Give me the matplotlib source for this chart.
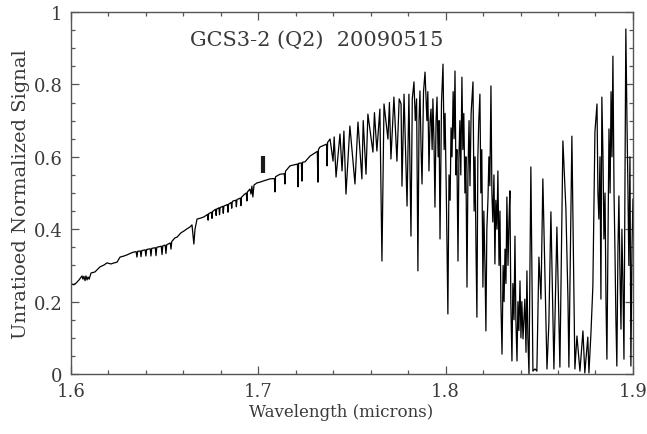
import matplotlib
matplotlib.use("Agg")
import matplotlib.pyplot as plt
from matplotlib.ticker import MultipleLocator

# spectrum: wavelength (microns) and unratioed signal
wl = [
    1.6000, 1.6015, 1.6027, 1.6043, 1.6059, 1.6064, 1.6069, 1.6075, 1.6080, 1.6086,
    1.6091, 1.6097, 1.6107, 1.6128, 1.6155, 1.6176, 1.6192, 1.6214, 1.6224, 1.6246,
    1.6262, 1.6283, 1.6299, 1.6320, 1.6336,
    1.6348, 1.6352, 1.6356, 1.6370, 1.6374, 1.6378, 1.6396, 1.6400, 1.6404,
    1.6423, 1.6427, 1.6431, 1.6450, 1.6454, 1.6458, 1.6482, 1.6486, 1.6490,
    1.6503, 1.6507, 1.6511, 1.6530, 1.6534, 1.6538,
    1.6555, 1.6566, 1.6587, 1.6603, 1.6619, 1.6635, 1.6646, 1.6651, 1.6656, 1.6662,
    1.6673, 1.6694, 1.6710, 1.6726,
    1.6729, 1.6732, 1.6735, 1.6750, 1.6753, 1.6756, 1.6772, 1.6775, 1.6778,
    1.6790, 1.6793, 1.6796, 1.6810, 1.6813, 1.6816, 1.6835, 1.6838, 1.6841,
    1.6855, 1.6858, 1.6861, 1.6865, 1.6880, 1.6883, 1.6886, 1.6904, 1.6907, 1.6910,
    1.6925, 1.6936, 1.6939, 1.6942, 1.6955, 1.6961, 1.6966, 1.6971, 1.6977, 1.6993,
    1.7009, 1.7025, 1.7062, 1.7086, 1.7089, 1.7092, 1.7116, 1.7139, 1.7142, 1.7145,
    1.7169, 1.7209, 1.7212, 1.7215, 1.7230, 1.7233, 1.7236, 1.7249, 1.7276,
    1.7315, 1.7318, 1.7321, 1.7329, 1.7364, 1.7367, 1.7370, 1.7383,
    1.7399, 1.7405, 1.7415, 1.7436, 1.7447, 1.7457, 1.7468, 1.7489, 1.7516, 1.7532,
    1.7553, 1.7560, 1.7575, 1.7585, 1.7612, 1.7620, 1.7633, 1.7649, 1.7660, 1.7671,
    1.7692, 1.7700, 1.7708, 1.7724, 1.7740, 1.7752, 1.7762, 1.7767, 1.7778, 1.7794,
    1.7804, 1.7815, 1.7822, 1.7831, 1.7838, 1.7845, 1.7852, 1.7858, 1.7863, 1.7869,
    1.7874, 1.7882, 1.7890, 1.7900, 1.7905, 1.7911, 1.7917, 1.7922, 1.7928, 1.7932,
    1.7938, 1.7943, 1.7949, 1.7954, 1.7960, 1.7965, 1.7970, 1.7978, 1.7986,
    1.7992, 1.7997, 1.8005, 1.8012, 1.8018, 1.8024, 1.8029, 1.8034, 1.8040, 1.8045,
    1.8050, 1.8055, 1.8060, 1.8066, 1.8071, 1.8076, 1.8081, 1.8087, 1.8092, 1.8097,
    1.8103, 1.8108, 1.8114, 1.8119, 1.8125, 1.8130, 1.8136, 1.8146, 1.8152, 1.8157,
    1.8162, 1.8167, 1.8172, 1.8177, 1.8183, 1.8188, 1.8193, 1.8199, 1.8204, 1.8210,
    1.8215, 1.8220, 1.8226, 1.8231, 1.8236, 1.8242, 1.8247, 1.8252, 1.8258, 1.8263,
    1.8268, 1.8274, 1.8279, 1.8285, 1.8290, 1.8295, 1.8301,
    1.8307, 1.8312, 1.8317, 1.8322, 1.8327, 1.8333, 1.8338, 1.8343, 1.8348, 1.8354,
    1.8359, 1.8365, 1.8370, 1.8375, 1.8381, 1.8386, 1.8391, 1.8397, 1.8402, 1.8407,
    1.8413, 1.8418, 1.8423, 1.8429, 1.8434, 1.8439, 1.8445, 1.8455, 1.8466,
    1.8477, 1.8487, 1.8498, 1.8509, 1.8519, 1.8541, 1.8551, 1.8562, 1.8578, 1.8594,
    1.8610, 1.8626, 1.8642, 1.8653, 1.8658, 1.8674, 1.8690, 1.8701, 1.8717, 1.8733,
    1.8743, 1.8759, 1.8765, 1.8776, 1.8786, 1.8797, 1.8808, 1.8813, 1.8818, 1.8824,
    1.8829, 1.8834, 1.8840, 1.8845, 1.8851, 1.8856, 1.8861, 1.8867, 1.8872, 1.8878,
    1.8883, 1.8888, 1.8893, 1.8899, 1.8904, 1.8909, 1.8914, 1.8920, 1.8925, 1.8930,
    1.8936, 1.8941, 1.8946, 1.8952, 1.8957, 1.8962, 1.8968, 1.8973, 1.8978, 1.8984,
    1.8989, 1.8995, 1.9000,
]
sig = [
    0.249, 0.247, 0.251, 0.260, 0.271, 0.262, 0.270, 0.258, 0.271, 0.260,
    0.268, 0.262, 0.279, 0.282, 0.296, 0.301, 0.307, 0.304, 0.306, 0.309,
    0.323, 0.326, 0.329, 0.334, 0.337,
    0.338, 0.323, 0.339, 0.340, 0.324, 0.341, 0.343, 0.326, 0.344,
    0.346, 0.326, 0.347, 0.349, 0.327, 0.350, 0.353, 0.330, 0.354,
    0.356, 0.333, 0.357, 0.362, 0.345, 0.366,
    0.376, 0.378, 0.390, 0.395, 0.401, 0.406, 0.412, 0.385, 0.359, 0.400,
    0.428, 0.431, 0.434, 0.440,
    0.441, 0.425, 0.443, 0.447, 0.430, 0.449, 0.455, 0.438, 0.456,
    0.459, 0.440, 0.460, 0.463, 0.444, 0.464, 0.468, 0.447, 0.469,
    0.474, 0.458, 0.475, 0.478, 0.480, 0.462, 0.482, 0.486, 0.465, 0.488,
    0.496, 0.500, 0.478, 0.503, 0.511, 0.497, 0.519, 0.489, 0.522, 0.528,
    0.530, 0.533, 0.539, 0.540, 0.503, 0.545, 0.552, 0.553, 0.525, 0.560,
    0.575, 0.580, 0.517, 0.582, 0.583, 0.533, 0.585, 0.586, 0.602,
    0.615, 0.530, 0.620, 0.627, 0.635, 0.575, 0.640, 0.649,
    0.588, 0.655, 0.544, 0.663, 0.561, 0.671, 0.497, 0.685, 0.525, 0.696,
    0.539, 0.700, 0.552, 0.718, 0.613, 0.722, 0.616, 0.732, 0.312, 0.746,
    0.649, 0.750, 0.594, 0.765, 0.588, 0.760, 0.746, 0.519, 0.773, 0.464,
    0.773, 0.381, 0.760, 0.807, 0.700, 0.760, 0.285, 0.700, 0.782, 0.620,
    0.525, 0.780, 0.834, 0.700, 0.780, 0.561, 0.700, 0.732, 0.620, 0.760,
    0.640, 0.461, 0.700, 0.765, 0.600, 0.700, 0.373, 0.750, 0.856,
    0.620, 0.720, 0.450, 0.166, 0.550, 0.480, 0.680, 0.600, 0.780, 0.650,
    0.837, 0.550, 0.620, 0.312, 0.600, 0.700, 0.550, 0.820, 0.620, 0.720,
    0.500, 0.600, 0.240, 0.550, 0.700, 0.520, 0.720, 0.807, 0.450, 0.600,
    0.350, 0.157, 0.600, 0.700, 0.773, 0.500, 0.620, 0.240, 0.450, 0.300,
    0.119, 0.400, 0.483, 0.600, 0.520, 0.796, 0.500, 0.420, 0.550, 0.304,
    0.480, 0.400, 0.561, 0.300, 0.450, 0.200, 0.055,
    0.300, 0.200, 0.345, 0.250, 0.489, 0.300, 0.420, 0.506, 0.200, 0.036,
    0.250, 0.150, 0.381, 0.150, 0.036, 0.200, 0.120, 0.257, 0.100, 0.200,
    0.097, 0.150, 0.207, 0.060, 0.285, 0.100, 0.000, 0.572, 0.008,
    0.014, 0.008, 0.323, 0.207, 0.539, 0.014, 0.138, 0.448, 0.014, 0.406,
    0.019, 0.644, 0.456, 0.207, 0.019, 0.657, 0.014, 0.105, 0.008, 0.119,
    0.003, 0.102, 0.003, 0.116, 0.243, 0.669, 0.746, 0.500, 0.428, 0.600,
    0.207, 0.765, 0.600, 0.373, 0.500, 0.200, 0.041, 0.400, 0.677, 0.500,
    0.780, 0.600, 0.878, 0.500, 0.337, 0.150, 0.022, 0.350, 0.492, 0.300,
    0.124, 0.400, 0.262, 0.041, 0.500, 0.953, 0.700, 0.519, 0.300, 0.600,
    0.022, 0.354, 0.483,
]

title = "GCS3-2 (Q2)  20090515"
marker_wl = 1.7025
marker_lo, marker_hi = 0.555, 0.602

plt.rcParams['font.family'] = ['DejaVu Serif']
txt = '#3a3a3a'

fig = plt.figure(figsize=(6.47, 4.35), dpi=100)
ax = fig.add_axes([0.1097, 0.1379, 0.8686, 0.8322])

ax.plot(wl, sig, color='black', lw=0.9)
ax.plot([marker_wl, marker_wl], [marker_lo, marker_hi], color='#1a1a1a', lw=3,
        solid_capstyle='butt')
ax.text(1.6635, 0.925, title, ha='left', va='center', fontsize=15, color=txt)

ax.set_xlim(1.6, 1.9)
ax.set_ylim(0, 1)
ax.xaxis.set_minor_locator(MultipleLocator(0.02))
ax.yaxis.set_minor_locator(MultipleLocator(0.05))
ax.set_xticks([1.6, 1.7, 1.8, 1.9])
ax.set_xticklabels(['1.6', '1.7', '1.8', '1.9'])
ax.set_yticks([0, 0.2, 0.4, 0.6, 0.8, 1])
ax.set_yticklabels(['0', '0.2', '0.4', '0.6', '0.8', '1'])
ax.tick_params(which='both', direction='in', top=True, right=True,
               color='#555555', labelcolor=txt, labelsize=13)
ax.tick_params(which='major', length=6, width=0.9, pad=6)
ax.tick_params(which='minor', length=3, width=0.9)
for s in ax.spines.values():
    s.set_color('#555555')
    s.set_linewidth(1.0)

ax.set_xlabel('Wavelength (microns)', fontsize=12, color=txt, labelpad=2)
ax.xaxis.label.set_x(0.48)
ax.set_ylabel('Unratioed Normalized Signal', fontsize=14, color=txt, labelpad=3)

fig.savefig('out.png', dpi=100, facecolor='white')
